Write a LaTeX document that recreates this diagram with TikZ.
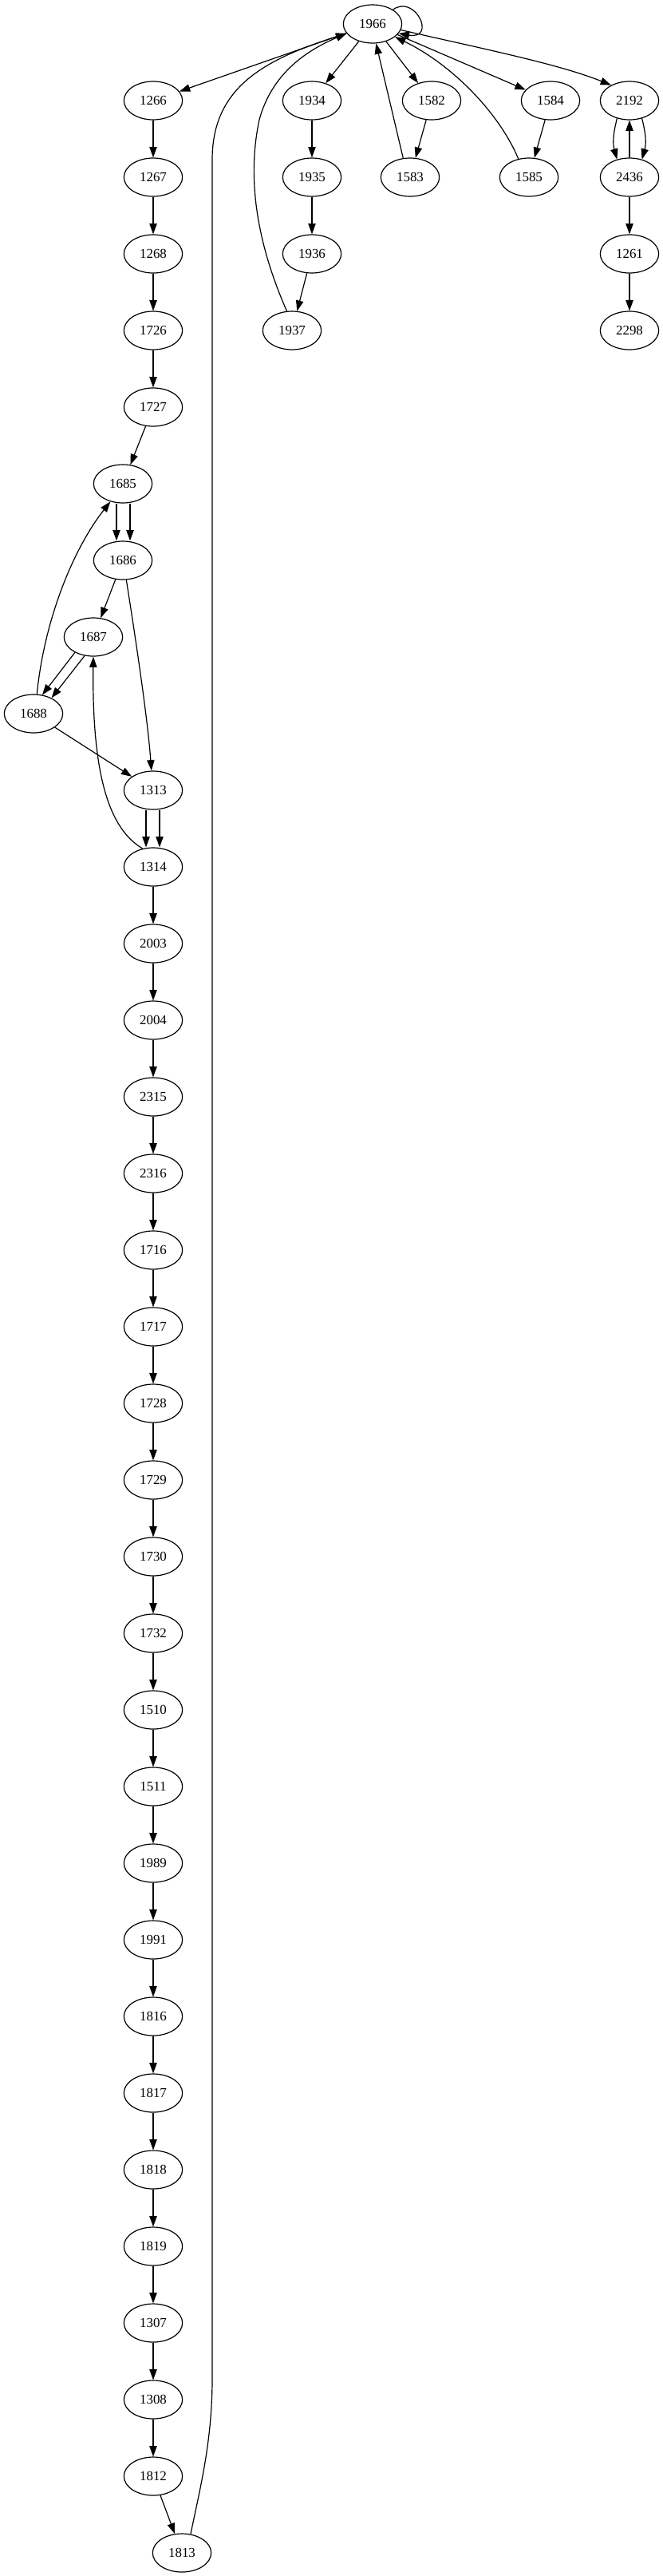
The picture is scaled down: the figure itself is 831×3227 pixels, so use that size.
\documentclass[tikz,border=0pt]{standalone}
\usepackage{fontspec}
\setmainfont{Liberation Serif}
\usetikzlibrary{shapes.geometric,arrows.meta,calc}
\begin{document}
\begin{tikzpicture}[x=0.75pt,y=-0.75pt,
  nd/.style={draw,ellipse,minimum width=55pt,minimum height=36pt,inner sep=0pt,line width=0.9pt,font=\fontsize{12.7}{14}\selectfont},
  arr/.style={-{Triangle[length=10pt,width=7pt]},line width=0.9pt}]
\useasboundingbox (0,0) rectangle (831,3227);
% top
\node[nd] (n1966) at (467,30) {1966};
% left chain
\node[nd] (n1266) at (192,126) {1266};
\node[nd] (n1267) at (192,222) {1267};
\node[nd] (n1268) at (192,318) {1268};
\node[nd] (n1726) at (192,414) {1726};
\node[nd] (n1727) at (192,510) {1727};
\node[nd] (n1685) at (154,606) {1685};
\node[nd] (n1686) at (154,702) {1686};
\node[nd] (n1687) at (117,798) {1687};
\node[nd] (n1688) at (42,894) {1688};
\node[nd] (n1313) at (192,990) {1313};
\node[nd] (n1314) at (192,1086) {1314};
\foreach \lab/\yy in {2003/1182,2004/1278,2315/1374,2316/1470,1716/1566,1717/1662,1728/1758,1729/1854,1730/1950,1732/2046,1510/2142,1511/2238,1989/2334,1991/2430,1816/2526,1817/2622,1818/2718,1819/2814,1307/2910,1308/3006,1812/3102}
  \node[nd] (n\lab) at (192,\yy) {\lab};
\node[nd] (n1813) at (228,3198) {1813};
% other columns
\node[nd] (n1934) at (391,126) {1934};
\node[nd] (n1935) at (391,222) {1935};
\node[nd] (n1936) at (391,318) {1936};
\node[nd] (n1937) at (366,414) {1937};
\node[nd] (n1582) at (541,126) {1582};
\node[nd] (n1583) at (514,222) {1583};
\node[nd] (n1584) at (690,126) {1584};
\node[nd] (n1585) at (663,222) {1585};
\node[nd] (n2192) at (789,126) {2192};
\node[nd] (n2436) at (789,222) {2436};
\node[nd] (n1261) at (789,318) {1261};
\node[nd] (n2298) at (789,414) {2298};
% edges from 1966
\draw[arr] (n1966) -- (n1266);
\draw[arr] (n1966) -- (n1934);
\draw[arr] (n1966) -- (n1582);
\draw[arr] (n1966) -- (n1584);
\draw[arr] (n1966.-12) .. controls (600,60) and (700,80) .. (n2192.140);
\draw[arr] (n1966.35) .. controls (520,-8) and (548,50) .. (n1966.-20);
% edges into 1966
\draw[arr] (n1583.110) -- (n1966.-80);
\draw[arr] (n1585.120) .. controls (625,140) and (565,80) .. (n1966.-30);
\draw[arr] (n1937.105) .. controls (320,300) and (310,220) .. (325,150) .. controls (340,95) and (380,65) .. (n1966.200);
\draw[arr] (n1813.65) .. controls (250,3120) and (266,3060) .. (266,2980) -- (266,200) .. controls (266,110) and (330,75) .. (n1966.200);
% column edges
\draw[arr] (n1934) -- (n1935);
\draw[arr] (n1935) -- (n1936);
\draw[arr] (n1936) -- (n1937);
\draw[arr] (n1582) -- (n1583);
\draw[arr] (n1584) -- (n1585);
\draw[arr] (n2192.235) .. controls (768,170) and (768,180) .. (n2436.125);
\draw[arr] (n2192.305) .. controls (810,170) and (810,180) .. (n2436.55);
\draw[arr] (n2436) -- (n2192);
\draw[arr] (n2436) -- (n1261);
\draw[arr] (n1261) -- (n2298);
% left chain
\draw[arr] (n1266) -- (n1267);
\draw[arr] (n1267) -- (n1268);
\draw[arr] (n1268) -- (n1726);
\draw[arr] (n1726) -- (n1727);
\draw[arr] (n1727) -- (n1685);
\draw[arr] ($(n1685.south)+(-8,0)$) -- ($(n1686.north)+(-8,0)$);
\draw[arr] ($(n1685.south)+(9,0)$) -- ($(n1686.north)+(9,0)$);
\draw[arr] (n1686) -- (n1687);
\draw[arr] (n1686.-80) .. controls (170,800) and (185,900) .. (n1313.95);
\draw[arr] (n1687.220) -- (n1688.65);
\draw[arr] (n1687.245) -- (n1688.41);
\draw[arr] (n1688.80) .. controls (55,780) and (90,690) .. (n1685.235);
\draw[arr] (n1688) -- (n1313);
\draw[arr] ($(n1313.south)+(-9,0)$) -- ($(n1314.north)+(-9,0)$);
\draw[arr] ($(n1313.south)+(8,0)$) -- ($(n1314.north)+(8,0)$);
\draw[arr] (n1314.120) .. controls (140,1040) and (115,980) .. (n1687.-90);
\draw[arr] (n1314) -- (n2003);
\foreach \a/\b in {2003/2004,2004/2315,2315/2316,2316/1716,1716/1717,1717/1728,1728/1729,1729/1730,1730/1732,1732/1510,1510/1511,1511/1989,1989/1991,1991/1816,1816/1817,1817/1818,1818/1819,1819/1307,1307/1308,1308/1812,1812/1813}
  \draw[arr] (n\a) -- (n\b);
\end{tikzpicture}
\end{document}
